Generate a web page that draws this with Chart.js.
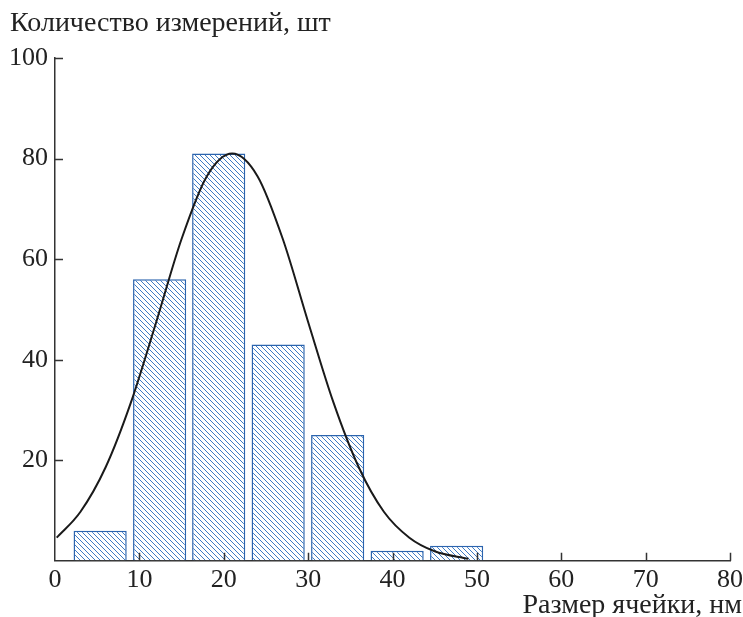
<!DOCTYPE html>
<html lang="ru">
<head>
    <meta charset="UTF-8">
    <title>Размер ячейки</title>
    <script src="https://cdn.jsdelivr.net/npm/chart.js"></script>
    <style>
        html, body {
            margin: 0;
            padding: 0;
            background: #fff;
        }
        .chart-container {
            width: 743px;
            height: 617px;
            position: relative;
        }
    </style>
</head>
<body>
    <div class="chart-container">
        <canvas id="histChart"></canvas>
    </div>
    <script>
        // Гистограмма: центры интервалов (нм) и количество измерений
        const binCenters = [5.35, 12.4, 19.4, 26.45, 33.5, 40.55, 47.6];
        const counts = [6, 56, 81, 43, 25, 2, 3];

        // Огибающая кривая
        const curveX = [0.2, 3, 6, 9, 12, 15, 18, 21, 24, 27, 30, 33, 36, 39, 42, 45, 49];
        const curveY = [4.6, 9.7, 18.6, 31.5, 47.5, 64, 76.5, 81, 76.5, 64, 47.5, 31.5, 18.6, 9.7, 4.6, 1.9, 0.4];

        const xTicks = [10, 20, 30, 40, 50, 60, 70, 80];
        const yTicks = [20, 40, 60, 80, 100];

        const fontFamily = "'Liberation Serif', 'DejaVu Serif', serif";
        const textColor = '#222';
        const axisColor = '#333';
        const xTitle = 'Размер ячейки, нм';

        function makeHatch() {
            const size = 5;
            const c = document.createElement('canvas');
            c.width = size;
            c.height = size;
            const ctx = c.getContext('2d');
            ctx.fillStyle = '#fff';
            ctx.fillRect(0, 0, size, size);
            ctx.strokeStyle = '#3f7bc4';
            ctx.lineWidth = 1;
            ctx.beginPath();
            ctx.moveTo(-1, -1);
            ctx.lineTo(size + 1, size + 1);
            ctx.moveTo(-1, size - 1);
            ctx.lineTo(1, size + 1);
            ctx.moveTo(size - 1, -1);
            ctx.lineTo(size + 1, 1);
            ctx.stroke();
            return ctx.createPattern(c, 'repeat');
        }

        // риски внутрь области графика + подпись оси X у правого края
        const inwardTicks = {
            id: 'inwardTicks',
            afterDatasetsDraw(chart) {
                const ctx = chart.ctx;
                const x = chart.scales.x;
                const y = chart.scales.y;
                const len = 8;
                ctx.save();
                ctx.strokeStyle = axisColor;
                ctx.lineWidth = 1.5;
                ctx.beginPath();
                xTicks.forEach(v => {
                    const px = Math.round(x.getPixelForValue(v)) + 0.5;
                    ctx.moveTo(px, y.bottom);
                    ctx.lineTo(px, y.bottom - len);
                });
                yTicks.forEach(v => {
                    const py = Math.round(y.getPixelForValue(v)) + 0.5;
                    ctx.moveTo(x.left, py);
                    ctx.lineTo(x.left + len, py);
                });
                ctx.stroke();

                ctx.fillStyle = textColor;
                ctx.font = '28px ' + fontFamily;
                ctx.textAlign = 'right';
                ctx.textBaseline = 'alphabetic';
                ctx.fillText(xTitle, chart.width - 1, chart.height - 4);
                ctx.restore();
            }
        };

        const data = {
            datasets: [
                {
                    type: 'line',
                    data: curveX.map((v, i) => ({ x: v, y: curveY[i] })),
                    borderColor: '#1a1a1a',
                    borderWidth: 2,
                    pointRadius: 0,
                    cubicInterpolationMode: 'monotone',
                    fill: false,
                    order: 0
                },
                {
                    type: 'bar',
                    data: binCenters.map((v, i) => ({ x: v, y: counts[i] })),
                    backgroundColor: makeHatch(),
                    borderColor: '#2b64ae',
                    borderWidth: 1.5,
                    barPercentage: 0.9,
                    categoryPercentage: 1.0,
                    order: 1
                }
            ]
        };

        const config = {
            data: data,
            options: {
                responsive: true,
                maintainAspectRatio: false,
                animation: false,
                layout: {
                    padding: { left: 10, right: 0, top: 7, bottom: 17 }
                },
                plugins: {
                    legend: { display: false },
                    tooltip: { enabled: false },
                    title: {
                        display: true,
                        text: 'Количество измерений, шт',
                        align: 'start',
                        color: textColor,
                        font: { family: fontFamily, size: 28, weight: 'normal' },
                        padding: { top: 0, bottom: 17.4 }
                    }
                },
                scales: {
                    x: {
                        type: 'linear',
                        min: 0,
                        max: 80,
                        offset: false,
                        grid: { display: true, drawOnChartArea: false, drawTicks: false },
                        border: { color: axisColor, width: 1.5 },
                        afterFit(scale) {
                            scale.paddingRight = 13;
                        },
                        ticks: {
                            stepSize: 10,
                            padding: 4,
                            color: textColor,
                            font: { family: fontFamily, size: 26 },
                            maxRotation: 0
                        }
                    },
                    y: {
                        min: 0,
                        max: 100,
                        grid: { display: true, drawOnChartArea: false, drawTicks: false },
                        border: { color: axisColor, width: 1.5 },
                        afterFit(scale) {
                            scale.width = 45;
                        },
                        ticks: {
                            stepSize: 20,
                            padding: 7,
                            color: textColor,
                            font: { family: fontFamily, size: 26 },
                            callback: v => (v === 0 ? '' : v)
                        }
                    }
                }
            },
            plugins: [inwardTicks]
        };

        const histChart = new Chart(document.getElementById('histChart'), config);
    </script>
</body>
</html>
